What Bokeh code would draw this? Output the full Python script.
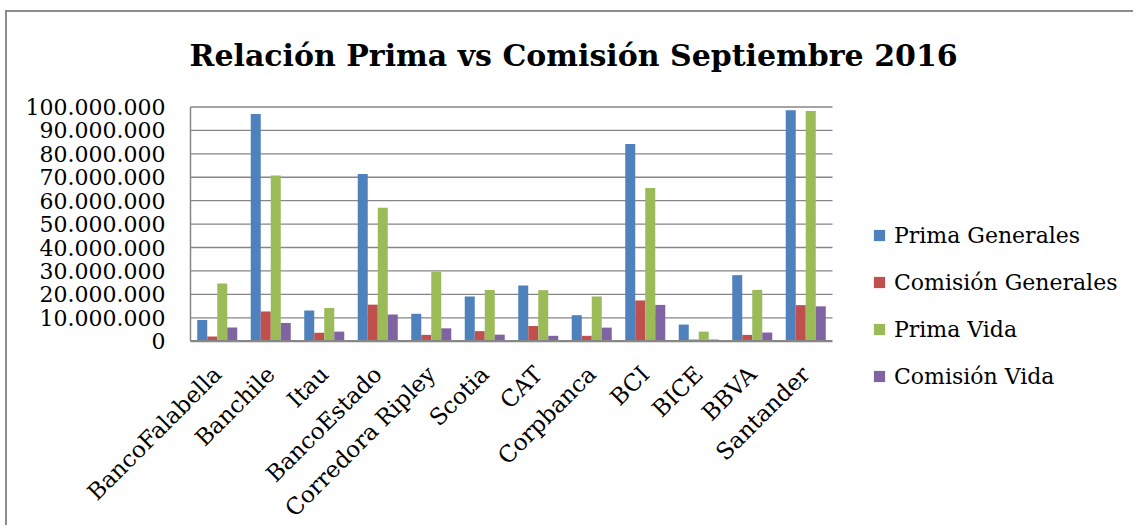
import math
from bokeh.plotting import figure
from bokeh.models import (ColumnDataSource, Range1d, Legend, LegendItem,
                          FixedTicker, LinearAxis, Label)
from bokeh.transform import dodge
from bokeh.embed import file_html
from bokeh.resources import INLINE

categories = ["BancoFalabella", "Banchile", "Itau", "BancoEstado", "Corredora Ripley", "Scotia",
              "CAT", "Corpbanca", "BCI", "BICE", "BBVA", "Santander"]
prima_generales = [9000000, 97000000, 13100000, 71400000, 11700000, 19100000,
                   23800000, 11100000, 84200000, 7100000, 28200000, 98600000]
comision_generales = [2000000, 12700000, 3600000, 15600000, 2700000, 4300000,
                      6500000, 2300000, 17400000, 700000, 2700000, 15400000]
prima_vida = [24600000, 70700000, 14200000, 57000000, 29700000, 21900000,
              21800000, 19100000, 65400000, 4100000, 21900000, 98300000]
comision_vida = [5800000, 7800000, 4100000, 11400000, 5500000, 2800000,
                 2300000, 5800000, 15500000, 700000, 3700000, 14900000]
series_names = ["Prima Generales", "Comisión Generales", "Prima Vida", "Comisión Vida"]
y_ticks = [0, 10000000, 20000000, 30000000, 40000000, 50000000, 60000000, 70000000,
           80000000, 90000000, 100000000]
y_labels = ["0", "10.000.000", "20.000.000", "30.000.000", "40.000.000", "50.000.000",
            "60.000.000", "70.000.000", "80.000.000", "90.000.000", "100.000.000"]
title_text = "Relación Prima vs Comisión Septiembre 2016"

colors = ["#4F81BD", "#C0504D", "#9BBB59", "#8064A2"]
FONT = "DejaVu Serif"
GRAY = "#868686"

# ---- layout geometry (pixels) ----
W, H = 1128, 515
AXIS_X_PX = 183             # value axis, px right of the canvas' left edge
SLOT = 53.5                 # px per category slot
ZERO_PX = 186.3             # y=0 line, px above the frame bottom
SPAN_PX = 234.2             # px between 0 and the top tick
y_top = y_ticks[-1]
y_lo = -ZERO_PX / SPAN_PX * y_top
y_hi = (H - ZERO_PX) / SPAN_PX * y_top
x_lo = -AXIS_X_PX / SLOT
x_hi = x_lo + W / SLOT

n_cat = len(categories)
centers = [i + 0.5 for i in range(n_cat)]     # category slot centres

source = ColumnDataSource(dict(pos=centers, pg=prima_generales, cg=comision_generales,
                               pv=prima_vida, cv=comision_vida))
grid_src = ColumnDataSource(dict(y=y_ticks[1:], x0=[0] * (len(y_ticks) - 1),
                                 x1=[n_cat] * (len(y_ticks) - 1)))

p = figure(x_range=Range1d(x_lo, x_hi), y_range=Range1d(y_lo, y_hi), title=None,
           width=W, height=H, output_backend="svg", toolbar_location=None,
           x_axis_location=None, y_axis_location=None,
           min_border_left=0, min_border_right=0, min_border_top=0, min_border_bottom=0)
p.styles = {"margin-left": "5px", "margin-top": "10px",
            "border-left": "2px solid #8c8c8c", "border-top": "2px solid #8c8c8c"}

p.outline_line_color = None
p.background_fill_color = "white"
p.border_fill_color = "white"
p.xgrid.grid_line_color = None
p.ygrid.grid_line_color = None

# horizontal gridlines across the category area only
p.segment(x0="x0", x1="x1", y0="y", y1="y", source=grid_src, line_color=GRAY, line_width=1.3)

yaxis = LinearAxis(ticker=FixedTicker(ticks=y_ticks), fixed_location=0,
                   major_label_overrides=dict(zip(y_ticks, y_labels)))
yaxis.major_label_text_font = FONT
yaxis.major_label_text_font_size = "22px"
yaxis.major_label_text_color = "black"
yaxis.major_tick_out = 0
yaxis.major_tick_in = 0
yaxis.minor_tick_out = 0
yaxis.minor_tick_in = 0
yaxis.major_label_standoff = 25
yaxis.axis_line_color = None
p.add_layout(yaxis, "left")

xaxis = LinearAxis(ticker=FixedTicker(ticks=centers), fixed_location=0,
                   major_label_overrides=dict(zip(centers, categories)))
xaxis.major_label_orientation = math.pi / 4
xaxis.major_label_text_font = FONT
xaxis.major_label_text_font_size = "23px"
xaxis.major_label_text_color = "black"
xaxis.major_tick_out = 0
xaxis.major_tick_in = 0
xaxis.minor_tick_out = 0
xaxis.minor_tick_in = 0
xaxis.major_label_standoff = 29
xaxis.axis_line_color = None
p.add_layout(xaxis, "below")

offsets = [-0.2805, -0.0935, 0.0935, 0.2805]
fields = ["pg", "cg", "pv", "cv"]
renderers = []
for f, off, c in zip(fields, offsets, colors):
    r = p.vbar(x=dodge("pos", off), top=f, width=0.187, source=source,
               fill_color=c, line_color=None)
    renderers.append(r)

# value axis line and category axis baseline
p.segment(x0=[0], x1=[0], y0=[y_ticks[0]], y1=[y_top], line_color=GRAY, line_width=1.5)
p.segment(x0=[0], x1=[n_cat], y0=[y_ticks[0]], y1=[y_ticks[0]], line_color=GRAY, line_width=2.2)

title = Label(text=title_text, x=182, y=H - 43, x_units="screen", y_units="screen",
              text_align="left", text_baseline="alphabetic",
              text_font=FONT, text_font_size="30px", text_font_style="bold", text_color="black")
p.add_layout(title)

legend = Legend(items=[LegendItem(label=n, renderers=[r]) for n, r in zip(series_names, renderers)],
                location=(865, 138), orientation="vertical",
                glyph_width=14, glyph_height=14, label_standoff=8, spacing=21, label_height=26,
                padding=0, margin=0, border_line_color=None, background_fill_alpha=0,
                label_text_font=FONT, label_text_font_size="22px", label_text_color="black")
p.add_layout(legend)

open("out.html", "w").write(file_html(p, INLINE))
